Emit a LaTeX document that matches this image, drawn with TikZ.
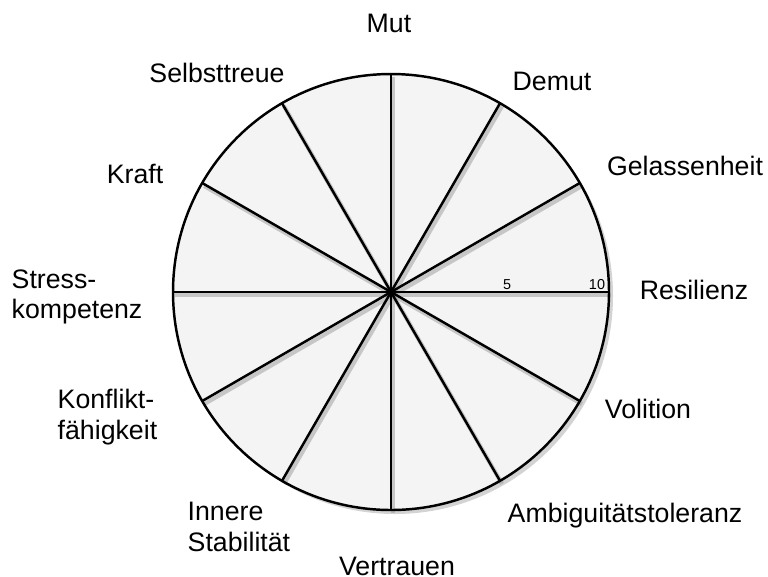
\documentclass[tikz,border=0pt]{standalone}
\usepackage{fontspec}
\setmainfont{Liberation Sans}
\usepackage{tikz}
\usetikzlibrary{shadows, positioning, calc}
\usepackage{xcolor}
\definecolor{wheelFill}{HTML}{F4F4F4}
\definecolor{wheelShade}{HTML}{9A9A9A}

\begin{document}
\begin{tikzpicture}[font=\fontsize{7.6}{8.6}\selectfont,
  lbl/.style={inner sep=0pt, align=left},
  tick/.style={inner sep=0pt, anchor=base, font=\fontsize{4.1}{5}\selectfont},
  spoke/.style={line width=0.7pt, black}]
\useasboundingbox (0,0) rectangle (7.68,5.76);
\coordinate (c) at (3.91,2.84);
% wheel
\fill[wheelFill, drop shadow={opacity=0.35, shadow xshift=0.04, shadow yshift=-0.04}] (c) circle (2.18);
\foreach \a in {0,30,...,150}
{
  \draw[wheelShade, opacity=0.5, line width=1.2pt] ($(c)+(\a:2.18)+(0.02,-0.03)$) -- ($(c)+(\a+180:2.18)+(0.02,-0.03)$);
}
\foreach \a in {0,30,...,150}
{
  \draw[spoke] ($(c)+(\a:2.18)$) -- ($(c)+(\a+180:2.18)$);
}
\draw[spoke] (c) circle (2.18);
% scale
\node[tick] (s5) at (5.07,2.865) {5};
\node[tick] (s10) at (5.97,2.865) {10};
% labels
\foreach \n/\x/\y/\t in {
  mut/3.89/5.53/Mut, demut/5.52/4.95/Demut, selbst/2.17/5.03/Selbsttreue,
  gelassen/6.85/4.10/Gelassenheit, kraft/1.35/4.02/Kraft, resil/6.94/2.86/Resilienz,
  volit/6.48/1.67/Volition, ambig/6.25/0.60/Ambiguitätstoleranz, vertr/3.97/0.10/Vertrauen}
{
  \node[lbl] (\n) at (\x,\y) {\t};
}
\node[lbl, anchor=west] (stress) at (0.11,2.79) {Stress-\\kompetenz};
\node[lbl, anchor=west] (konfl) at (0.57,1.59) {Konflikt-\\fähigkeit};
\node[lbl, anchor=west] (innere) at (1.87,0.49) {Innere\\Stabilität};
\end{tikzpicture}
\end{document}
